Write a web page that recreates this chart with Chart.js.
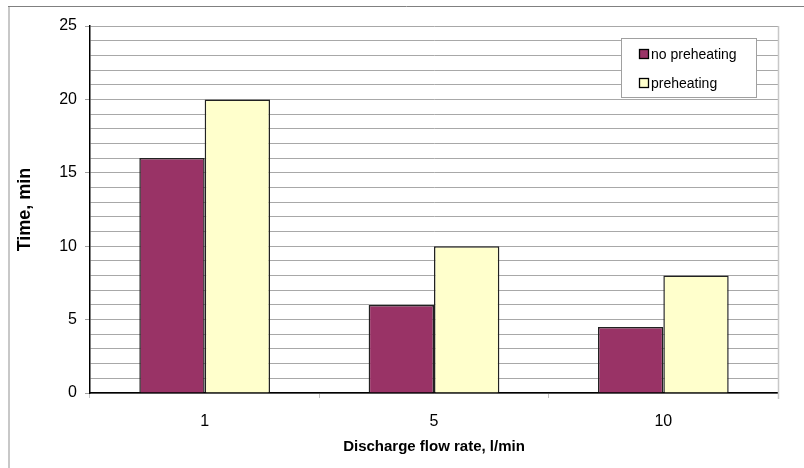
<!DOCTYPE html>
<html>
<head>
<meta charset="utf-8">
<script src="https://cdn.jsdelivr.net/npm/chart.js@4/dist/chart.umd.min.js"></script>
<style>
  html, body { margin: 0; padding: 0; background: #fff; }
  #wrap { width: 804px; height: 468px; }
</style>
</head>
<body>
<div id="wrap"><canvas id="chart" width="804" height="468"></canvas></div>
<script>
const flowRates = ["1", "5", "10"];
const noPreheating = [16, 6, 4.5];
const preheating = [20, 10, 8];
const seriesNames = ["no preheating", "preheating"];

const fontFamily = "'Liberation Sans', Arial, sans-serif";

// outer frame + legend box drawn by hand, Excel style
const framePlugin = {
    id: "frame",
    beforeDraw(chart) {
        const ctx = chart.ctx;
        ctx.save();
        ctx.fillStyle = "#fff";
        ctx.fillRect(0, 0, chart.width, chart.height);
        ctx.lineWidth = 1;
        ctx.strokeStyle = "#808080";
        ctx.beginPath();
        ctx.moveTo(8, 6.5);
        ctx.lineTo(810, 6.5);
        ctx.stroke();
        ctx.strokeStyle = "#c8c8c8";
        ctx.lineWidth = 2;
        ctx.beginPath();
        ctx.moveTo(9, 470);
        ctx.lineTo(9, 7);
        ctx.stroke();
        ctx.restore();
    },
    afterDatasetsDraw(chart) {
        const ctx = chart.ctx;
        const area = chart.chartArea;
        ctx.save();
        // light plot border right side
        ctx.strokeStyle = "#c8c8c8";
        ctx.lineWidth = 1.5;
        ctx.beginPath();
        ctx.moveTo(Math.round(area.right) + 0.5, area.top);
        ctx.lineTo(Math.round(area.right) + 0.5, area.bottom + 6);
        ctx.stroke();

        // legend
        const lx = 621.5, ly = 38.5, lw = 135, lh = 59;
        ctx.lineWidth = 1;
        ctx.fillStyle = "#fff";
        ctx.fillRect(lx, ly, lw, lh);
        ctx.strokeStyle = "#a0a0a0";
        ctx.strokeRect(lx, ly, lw, lh);
        ctx.font = "14px " + fontFamily;
        ctx.textBaseline = "middle";
        chart.data.datasets.forEach((ds, i) => {
            const y = 54 + i * 29;
            ctx.fillStyle = ds.backgroundColor;
            ctx.fillRect(640, y - 4, 8, 8);
            ctx.strokeStyle = "#000";
            ctx.lineWidth = 1.3;
            ctx.strokeRect(639.5, y - 4.5, 9, 9);
            ctx.fillStyle = "#000";
            ctx.fillText(ds.label, 651, y + 1);
        });
        ctx.restore();
    }
};

const ctx = document.getElementById("chart").getContext("2d");

new Chart(ctx, {
    type: "bar",
    data: {
        labels: flowRates,
        datasets: [{
            label: seriesNames[0],
            data: noPreheating,
            backgroundColor: "#993366",
            borderColor: "#222",
            borderWidth: 1.5,
            categoryPercentage: 0.57,
            barPercentage: 1.0
        }, {
            label: seriesNames[1],
            data: preheating,
            backgroundColor: "#FFFFCC",
            borderColor: "#222",
            borderWidth: 1.5,
            categoryPercentage: 0.57,
            barPercentage: 1.0
        }]
    },
    options: {
        responsive: false,
        animation: false,
        layout: { padding: { left: 14, top: 26, right: 26, bottom: 12 } },
        plugins: {
            legend: { display: false },
            tooltip: { enabled: false }
        },
        scales: {
            x: {
                afterFit(scale) { scale.height = 63; },
                grid: {
                    drawOnChartArea: false,
                    offset: true,
                    tickLength: 5,
                    color: "#c0c0c0"
                },
                border: { color: "#000", width: 1.5 },
                ticks: {
                    color: "#000",
                    padding: 14,
                    font: { family: fontFamily, size: 16 }
                },
                title: {
                    display: true,
                    text: "Discharge flow rate, l/min",
                    color: "#000",
                    padding: { top: 0, bottom: 0 },
                    font: { family: fontFamily, size: 15, weight: "bold" }
                }
            },
            y: {
                min: 0,
                max: 25,
                afterFit(scale) { scale.width = 76; },
                grid: {
                    color: "#a8a8a8",
                    tickLength: 5,
                    tickColor: c => (c.tick && c.tick.value % 5 === 0) ? "#a0a0a0" : "rgba(0,0,0,0)"
                },
                border: { color: "#000", width: 1.5 },
                ticks: {
                    stepSize: 1,
                    autoSkip: false,
                    color: "#000",
                    padding: 8,
                    font: { family: fontFamily, size: 16 },
                    callback: v => (v % 5 === 0 ? v : "")
                },
                title: {
                    display: true,
                    text: "Time, min",
                    color: "#000",
                    padding: { top: 0, bottom: 0 },
                    font: { family: fontFamily, size: 18, weight: "bold" }
                }
            }
        }
    },
    plugins: [framePlugin]
});
</script>
</body>
</html>
